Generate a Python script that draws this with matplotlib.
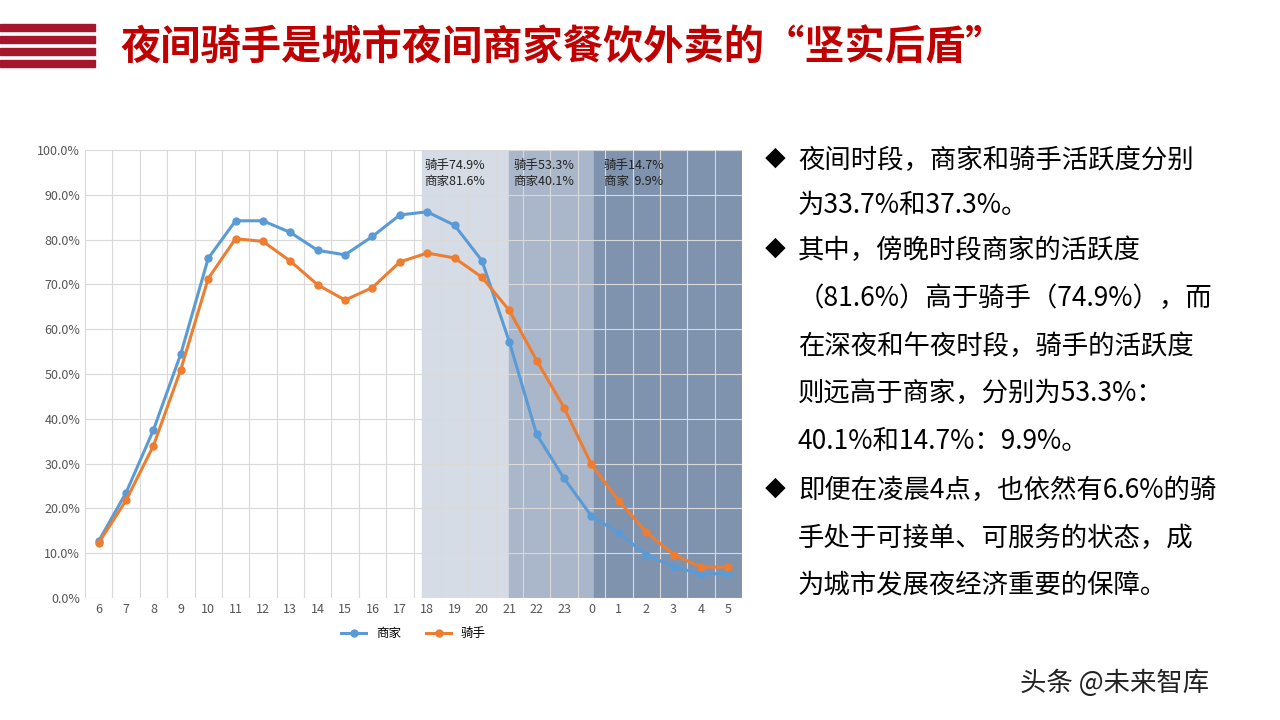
import matplotlib
matplotlib.use("Agg")
import matplotlib.pyplot as plt

plt.rcParams['font.family'] = ['Noto Sans CJK SC', 'DejaVu Sans']

hours = ['6','7','8','9','10','11','12','13','14','15','16','17','18','19','20','21','22','23','0','1','2','3','4','5']
merchant = [12.7,23.5,37.5,54.5,75.8,84.2,84.2,81.6,77.6,76.6,80.7,85.5,86.2,83.2,75.3,57.2,36.5,26.7,18.3,14.5,9.6,7.0,5.3,5.5]
rider = [12.3,21.8,34.0,51.0,71.3,80.2,79.6,75.2,69.9,66.5,69.3,75.0,77.0,75.9,71.6,64.2,53.0,42.5,29.8,21.7,14.7,9.7,6.9,6.9]
yticks = [0,10,20,30,40,50,60,70,80,90,100]
band_labels = ['骑手74.9%\n商家81.6%', '骑手53.3%\n商家40.1%', '骑手14.7%\n商家  9.9%']

fig = plt.figure(figsize=(12.8, 7.2), dpi=100)
W, H = 1280, 720
ax = fig.add_axes([85/W, 1-598/H, (742-85)/W, (598-150)/H])
x = list(range(len(hours)))
ax.axvspan(11.8, 15.0, color='#d6dce6', zorder=0)
ax.axvspan(15.0, 18.1, color='#aab7ca', zorder=0)
ax.axvspan(18.1, 23.5, color='#8093ae', zorder=0)
for xs, t in zip([11.9, 15.15, 18.45], band_labels):
    ax.text(xs, 98, t, fontsize=9, va='top', ha='left', color='#222222', linespacing=1.3)
ax.plot(x, merchant, color='#5b9bd5', lw=2.2, marker='o', ms=5, label='商家', zorder=3)
ax.plot(x, rider, color='#ed7d31', lw=2.2, marker='o', ms=5, label='骑手', zorder=3)
ax.set_xlim(-0.5, 23.5)
ax.set_ylim(0, 100)
ax.set_xticks(x)
ax.set_xticklabels(hours, fontsize=9, color='#555555')
ax.set_yticks(yticks)
ax.set_yticklabels([f'{v:.1f}%' for v in yticks], fontsize=9, color='#555555')
ax.tick_params(length=0)
for i in range(len(hours)+1):
    ax.axvline(i-0.5, color='#d9d9d9', lw=0.8, zorder=1)
for v in yticks:
    ax.axhline(v, color='#d9d9d9', lw=0.8, zorder=1)
for s in ax.spines.values():
    s.set_visible(False)
ax.legend(loc='upper center', bbox_to_anchor=(0.5, -0.04), ncol=2, frameon=False, fontsize=9)

for yy in [24, 36, 48, 60]:
    fig.patches.append(plt.Rectangle((0, 1-(yy+7)/H), 95/W, 7/H, transform=fig.transFigure, color='#a5152c'))
fig.text(120/W, 1-48/H, '夜间骑手是城市夜间商家餐饮外卖的“坚实后盾”', fontsize=29, fontweight='bold', color='#c00000', va='center')

lines = [
    (160, '◆', '夜间时段，商家和骑手活跃度分别'),
    (205, '', '为33.7%和37.3%。'),
    (250, '◆', '其中，傍晚时段商家的活跃度'),
    (298, '', '（81.6%）高于骑手（74.9%），而'),
    (346, '', '在深夜和午夜时段，骑手的活跃度'),
    (393, '', '则远高于商家，分别为53.3%：'),
    (441, '', '40.1%和14.7%：9.9%。'),
    (490, '◆', '即便在凌晨4点，也依然有6.6%的骑'),
    (538, '', '手处于可接单、可服务的状态，成'),
    (585, '', '为城市发展夜经济重要的保障。'),
]
for yy, b, t in lines:
    if b:
        fig.text(765/W, 1-yy/H, b, fontsize=15, va='center', color='#000000')
    fig.text(798/W, 1-yy/H, t, fontsize=19, va='center', color='#000000')

fig.text(1020/W, 1-683/H, '头条 @未来智库', fontsize=19, va='center', color='#222222')

fig.savefig('out.png', dpi=100)
